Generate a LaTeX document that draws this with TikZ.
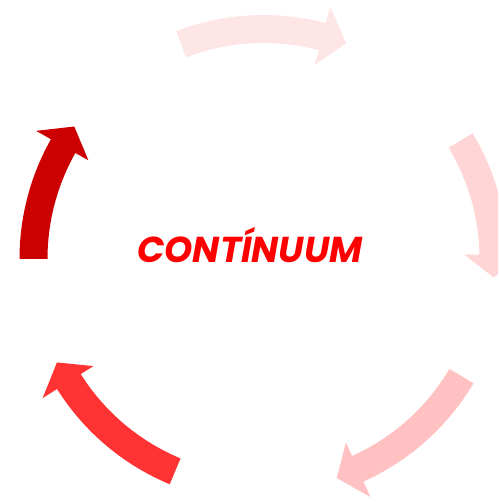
\documentclass[tikz,border=0pt]{standalone}
\usepackage{fontspec}
\setmainfont{Poppins}
\usepackage{tikz}
\definecolor{arrA}{HTML}{FFE6E6}
\definecolor{arrB}{HTML}{FFD5D5}
\definecolor{arrC}{HTML}{FFC1C1}
\definecolor{arrD}{HTML}{FF3333}
\definecolor{arrE}{HTML}{CC0000}

\begin{document}
\begin{tikzpicture}[
  cyc/.style={fill=#1,draw=none},
  lbl/.style={font=\bfseries\itshape\fontsize{36}{40}\selectfont,text=red,inner sep=0pt}]
  \useasboundingbox (0,0) rectangle (498pt,502pt);
  \clip (0,0) rectangle (498pt,502pt);
  \coordinate (ctr) at (263.5pt,243pt);
  % tail angle / head base angle / tip angle / colour
  \foreach \a/\b/\c/\col in {111/75.2/69/arrA, 31/1.2/-4.6/arrB, -30.6/-65.8/-71.5/arrC,
      -112.6/-147.8/-153.4/arrD, 180/150.6/145/arrE}{
    \fill[cyc=\col,shift={(ctr)}] (\a:216pt) arc[start angle=\a,end angle=\b,radius=216pt]
      -- (\b:201pt) -- (\c:231pt) -- (\b:261pt) -- (\b:244pt)
      arc[start angle=\b,end angle=\a,radius=244pt] -- cycle;
  }
  \node[lbl,anchor=base] (title) at (250pt,239.5pt) {CONTÍNUUM};
\end{tikzpicture}
\end{document}
